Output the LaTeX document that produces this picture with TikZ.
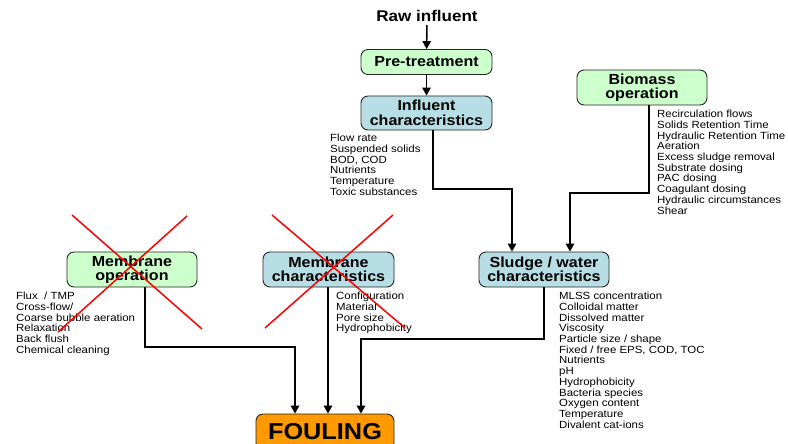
\documentclass[tikz,border=0pt]{standalone}
\usepackage{fontspec}
\setmainfont{Liberation Sans}[FakeStretch=1.1]
\usetikzlibrary{arrows.meta}
\definecolor{boxgreen}{RGB}{204,255,204}
\definecolor{boxblue}{RGB}{183,222,228}
\definecolor{foulorange}{RGB}{255,153,0}
\definecolor{crossred}{RGB}{255,0,0}
\begin{document}
\begin{tikzpicture}[x=1pt,y=-1pt,
  box/.style={draw=black!85,line width=0.9pt,rounded corners=7pt,align=center,inner sep=0pt,font=\fontsize{14.6}{14.5}\selectfont\bfseries},
  gbox/.style={box,fill=boxgreen,minimum width=130pt,minimum height=35pt},
  bbox/.style={box,fill=boxblue,minimum width=130pt,minimum height=35pt},
  items/.style={anchor=north west,align=left,inner sep=0pt,font=\fontsize{10.4}{10.7}\selectfont},
  flow/.style={line width=1.5pt,-{Triangle[width=8.5pt,length=8pt]}},
  cross/.style={draw=crossred,line width=1.5pt}
]
\useasboundingbox (0,0) rectangle (788,444);
\clip (0,0) rectangle (788,444);
\fill[white] (0,0) rectangle (788,444);

% nodes
\node[font=\fontsize{15.5}{16}\selectfont\bfseries] (raw) at (427,16) {Raw influent};
\node[gbox,minimum width=131pt,minimum height=25pt] (pre) at (426.5,62) {Pre-treatment};
\node[bbox,minimum width=131pt,minimum height=34pt] (infl) at (426.5,113) {Influent\\characteristics};
\node[gbox,minimum width=130pt] (bio) at (642,87.5) {Biomass\\operation};
\node[bbox] (sludge) at (544,269.5) {Sludge / water\\characteristics};
\node[gbox] (mop) at (132,269.5) {Membrane\\operation};
\node[bbox,minimum width=131pt] (mch) at (328.5,269.5) {Membrane\\characteristics};
\node[box,fill=foulorange,minimum width=138pt,minimum height=36pt,font=\fontsize{23}{24}\selectfont\bfseries] (foul) at (325,432) {FOULING};

% item lists
\node[items] (linf) at (330,134) {Flow rate\\Suspended solids\\BOD, COD\\Nutrients\\Temperature\\Toxic substances};
\node[items] (lbio) at (657,110) {Recirculation flows\\Solids Retention Time\\Hydraulic Retention Time\\Aeration\\Excess sludge removal\\Substrate dosing\\PAC dosing\\Coagulant dosing\\Hydraulic circumstances\\Shear};
\node[items] (lsl) at (559,292) {MLSS concentration\\Colloidal matter\\Dissolved matter\\Viscosity\\Particle size / shape\\Fixed / free EPS, COD, TOC\\Nutrients\\pH\\Hydrophobicity\\Bacteria species\\Oxygen content\\Temperature\\Divalent cat-ions};
\node[items] (lmop) at (16,292) {Flux\ \ / TMP\\Cross-flow/\\Coarse bubble aeration\\Relaxation\\Back flush\\Chemical cleaning};
\node[items] (lmch) at (336,292) {Configuration\\Material\\Pore size\\Hydrophobicity};

% routing coordinates
\coordinate (c1) at (433,189);
\coordinate (s1) at (512,0);
\coordinate (c2) at (649,193);
\coordinate (s2) at (570,0);
\coordinate (c3) at (544,339);
\coordinate (f3) at (361,0);
\coordinate (c4) at (145,347);
\coordinate (f1) at (295,0);
\coordinate (f2) at (328,0);

% connectors
\draw[flow] (raw) -- (pre);
\draw[flow] (pre) -- (infl);
\draw[flow] (infl.south -| c1) -- (c1) -| (sludge.north -| s1);
\draw[flow] (bio.south -| c2) -- (c2) -| (sludge.north -| s2);
\draw[flow] (sludge.south -| c3) -- (c3) -| (foul.north -| f3);
\draw[flow] (mop.south -| c4) -- (c4) -| (foul.north -| f1);
\draw[flow] (mch.south -| f2) -- (foul.north -| f2);

% red crosses
\draw[cross] (72,215) -- (202,329);
\draw[cross] (187,216) -- (58,332);
\draw[cross] (272,215) -- (405,328);
\draw[cross] (393,215) -- (265,328);
\end{tikzpicture}
\end{document}
